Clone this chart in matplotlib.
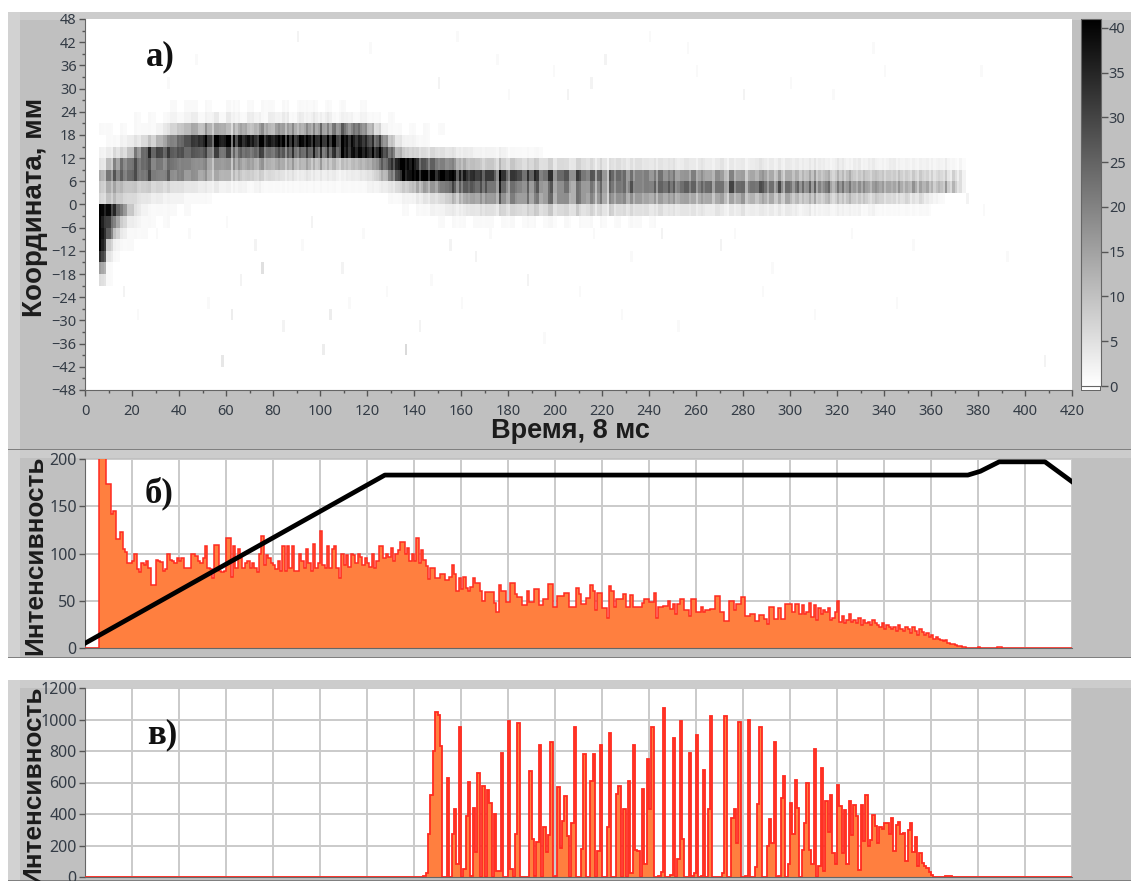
import numpy as np
from matplotlib import pyplot as plt
from matplotlib.colors import LinearSegmentedColormap, Normalize
from matplotlib.patches import Rectangle

W = 1131
H = 881

# intensity bins of panel b, t = 6, 7, 8 ...
hist_b = [260,240,220,174,174,142,145,115,115,123,
          105,102,90,90,92,100,84,80,90,88,
          92,85,67,67,93,92,91,82,84,100,
          93,92,90,95,92,95,85,85,85,100,
          99,97,92,90,95,108,85,84,74,109,
          109,82,80,82,116,116,75,108,85,105,
          95,85,90,92,85,90,85,80,100,118,
          88,98,95,90,88,84,92,82,108,82,
          108,85,108,82,82,100,92,85,105,90,
          82,110,85,90,124,88,85,108,85,105,
          108,85,74,100,88,98,86,99,98,90,
          99,96,88,95,90,86,100,85,92,108,
          108,95,100,96,106,92,100,104,
          112,112,100,106,92,100,92,116,90,104,93,87,73,85,85,74,74,78,78,72,
          72,75,88,78,60,74,62,75,64,60,65,74,69,69,60,50,59,59,59,59,
          48,38,67,60,60,49,49,69,69,57,54,54,46,46,60,49,49,62,62,45,45,52,
          52,68,68,43,43,55,55,55,58,58,43,43,43,64,57,47,47,53,53,67,60,40,
          58,58,42,42,32,66,60,43,52,52,52,57,43,43,56,
          43,43,43,43,48,52,52,49,49,58,32,43,43,44,44,50,41,47,36,47,
          52,52,40,40,34,52,52,38,38,43,38,40,40,41,41,55,55,38,38,29,
          29,50,50,40,47,47,54,54,34,34,36,36,29,29,35,35,31,25,43,43,
          31,31,42,31,31,47,47,47,38,47,47,
          36,45,36,38,48,33,46,30,42,36,40,38,42,30,32,38,50,28,34,26,
          30,36,28,30,26,32,24,30,26,28,24,30,26,24,22,26,20,24,22,20,
          22,18,24,20,18,22,20,16,22,18,14,20,17,14,16,12,14,10,12,9,
          8,7,8,5,4,4,3,2,2,1,1,0,0,0,0,0,1,0,0,0,0,0,0,0,1,1]

# intensity bins of panel c, t = 144, 145 ...
hist_c = [8,25,270,520,800,1045,1030,830,0,0,
          630,0,270,430,80,950,0,50,385,605,
          5,435,160,660,0,580,0,555,470,0,
          400,40,40,785,0,0,990,50,0,270,
          975,0,0,0,0,675,240,5,220,835,
          0,320,160,265,855,0,8,570,185,355,
          515,260,0,340,955,0,0,180,780,0,
          0,610,780,0,165,840,0,0,320,915,
          0,0,530,575,0,430,0,610,25,840,
          170,165,0,560,85,750,430,950,0,0,
          5,30,1070,0,0,15,880,0,115,990,
          240,0,0,785,8,25,900,0,8,680,
          0,430,1020,0,0,0,0,25,1025,0,
          0,375,430,215,985,0,0,8,1000,0,
          0,65,465,950,0,0,195,370,215,860,
          0,5,500,640,0,85,470,275,615,435,
          0,170,340,595,170,85,815,0,70,695,
          35,480,285,520,150,85,585,450,150,425,
          80,480,265,460,390,45,455,230,520,200,
          235,395,325,215,315,305,340,340,270,375,
          165,330,350,270,280,100,300,345,160,255,
          70,150,90,70,55,30,10,0,0,0,0,0,5,8,5]

# black trace in panel b
trace_t = [0, 127.6, 375.7, 381, 389, 408.5, 420]
trace_v = [5, 183, 183, 187, 197, 197, 176]

# heat map bands, 3 time units per value, first value at t = 6
band_24 = [0,0,0,0,0,0,0,0,0,0,1,0,1,1,0,1,0,0,1,1,
           0,1,0,1,1,0,1,0,1,1,1,0,1,0,1,0,0,1,0,0]
band_21 = [0,0,0,0,0,1,0,1,0,1,2,1,2,3,1,2,3,1,3,2,
           1,3,2,1,3,2,3,1,3,2,3,2,3,1,2,2,1,2,1,1,
           0,1]
band_18 = [1,1,0,1,0,1,1,1,2,4,7,9,11,14,10,14,12,13,9,12,
           14,10,13,15,11,16,14,15,12,16,15,18,16,20,22,18,22,18,12,6,
           2,1,1,0,1,0,1,0,1,0]
band_15 = [0,1,1,2,3,4,6,8,12,16,20,24,28,32,34,36,35,36,34,35,
           36,37,35,38,36,39,38,36,39,40,38,39,36,38,36,37,35,34,30,26,
           18,9,4,2,2,1,1,0]
band_12 = [2,3,5,6,10,18,24,28,30,27,26,28,24,27,26,24,26,22,25,22,
           24,22,26,24,22,26,24,26,23,26,28,25,26,30,34,36,38,38,36,36,
           30,22,12,8,7,6,5,6,5,4,4,3,3,2,2,2,2,2,1,1,1,1,1]
band_9 = [4,10,16,20,22,24,24,22,22,20,22,20,20,18,18,16,14,16,14,16,
          14,15,13,14,12,14,12,13,11,13,10,12,10,11,9,10,11,12,14,18,
          24,30,38,40,38,28,24,24,20,18,16,12,10,10,8,9,8,7,8,7,
          6,7,6,6,5,6,5,5,6,5,4,5,4,5,4,4,5,4,4,4,
          4,4,3,4,3,4,3,3,4,3,3,3,3,4,3,3,3,3,3,3,
          3,3,3,2,3,3,2,3,2,3,2,2,3,2,2,2,2,2,2,2,
          2,1,1,0]
band_6 = [12,20,22,22,24,24,22,24,20,22,18,20,16,18,14,14,12,12,10,10,
          8,8,7,6,6,5,4,4,3,4,3,3,3,3,2,3,3,4,5,8,
          12,20,30,38,40,40,40,38,40,38,36,34,32,32,30,32,28,30,28,30,
          26,28,24,26,22,24,24,22,24,22,22,20,20,22,20,18,20,20,18,20,
          18,18,16,16,18,16,14,16,14,16,14,13,14,13,14,12,12,11,12,11,
          11,11,10,11,9,9,11,8,9,8,9,8,8,8,7,7,7,6,6,6,
          5,5,3,0]
band_3 = [8,12,12,10,9,8,8,7,7,6,5,5,4,4,3,3,3,2,2,2,
          2,1,2,1,1,1,1,1,1,1,1,1,1,1,1,1,1,1,2,2,
          3,4,6,8,10,12,14,16,20,22,24,24,26,24,26,22,24,22,20,20,
          20,18,20,18,18,18,20,16,18,18,16,18,18,20,20,22,20,20,22,22,
          24,22,22,24,22,22,24,20,20,24,22,20,22,24,22,20,22,20,20,22,
          20,18,18,20,16,18,18,16,16,14,16,14,14,14,12,14,12,12,10,10,
          10,8,3,0]
band_0 = [6,9,9,7,6,5,4,3,3,2,2,2,1,1,1,1,0,0,0,0,
          0,0,0,0,0,0,0,0,0,0,0,0,0,0,0,0,0,0,0,0,
          0,1,1,2,2,3,4,5,6,8,10,12,14,14,16,16,18,16,18,16,
          18,16,16,18,16,18,16,16,18,16,14,16,14,16,16,14,16,14,14,14,
          14,14,14,14,12,14,14,12,14,12,12,14,12,10,12,12,10,12,10,10,
          10,10,8,10,8,8,10,8,8,6,8,6,6,5,6,4,5,3,2,1]
band_m3 = [40,36,28,18,9,4,2,1,1,1,1,0,1,0,0,0,0,0,0,0,
           0,0,0,0,0,0,0,0,0,0,0,0,0,0,0,0,0,0,0,0,
           0,0,0,1,0,1,1,2,2,3,3,3,4,4,5,5,5,6,6,6,
           6,7,6,7,6,6,6,6,5,6,5,5,6,5,5,5,5,5,4,5,
           4,4,4,4,4,4,3,4,3,3,3,4,3,3,3,3,3,3,3,2,
           3,2,2,2,2,2,2,2,1,2,1,1,1,1,1,1,1,1,0,0]
band_m6 = [36,28,16,7,3,2,1,1,0,1,0,0,0,0,0,0,0,0,0,0,
           0,0,0,0,0,0,0,0,0,0,0,0,0,0,0,0,0,0,0,0,
           0,0,0,0,0,0,0,0,1,0,1,1,0,1,1,1,0,1,1,0,
           1,1,0,1,1,0,1,0,1,1,0,1,0,1,0,1,1,0,1,0]
band_m9 = [38,24,8,3,1,1,1]
band_m12 = [36,8,2,1,1]
band_m15 = [30,4,1]
band_m18 = [14,1]
band_m21 = [5,1]

band_rows = [24, 21, 18, 15, 12, 9, 6, 3, 0, -3, -6, -9, -12, -15, -18, -21]
band_vals = [band_24, band_21, band_18, band_15, band_12, band_9, band_6, band_3,
             band_0, band_m3, band_m6, band_m9, band_m12, band_m15, band_m18, band_m21]

# faint single columns away from the bands
speck_t = [150,158,205,215,240,175,280,340,381,136,58,75,62,408,375,382,101,104,
           199,221,256,300,121,90,47,35,180,260,318,335,
           16,66,72,92,109,128,147,166,188,210,232,270,292,
           22,52,84,112,142,160,195,228,252,288,310,345,
           30,44,60,96,118,155,172,216,245,276,326,352,392]
speck_y = [30,42,27,30,42,36,27,33,33,-39,-42,-18,-30,-42,0,-3,-39,-30,
           33,36,39,30,39,42,36,30,27,33,27,39,
           -24,-21,-12,-12,-18,-24,-21,-15,-21,-24,-15,-12,-18,
           -30,-27,-33,-27,-33,-27,-36,-30,-33,-24,-30,-27,
           -9,-9,-6,-6,-9,-12,-9,-9,-9,-9,-9,-12,-15]
speck_v = [2,1,2,2,1,1,2,1,1,6,4,5,3,2,2,1,3,3,
           1,2,1,1,1,2,1,1,1,1,1,1,
           2,2,2,1,2,1,1,2,2,1,1,2,1,
           1,1,2,1,2,1,1,1,1,1,1,1,
           1,1,1,2,1,2,1,1,2,1,1,1,1]

y_ticks = list(range(-48, 49, 6))
x_ticks = list(range(0, 421, 20))
bar_ticks = [0, 5, 10, 15, 20, 25, 30, 35, 40]
ticks_b = [0, 50, 100, 150, 200]
ticks_c = [0, 200, 400, 600, 800, 1000, 1200]

TICK_FONT = 'Noto Sans'
TICK_COLOR = '#333b45'
GRAY = '#c0c0c0'


def px_axes(left, top, right, bottom):
    return fig.add_axes([left / W, 1 - bottom / H, (right - left) / W, (bottom - top) / H])


def px_rect(left, top, right, bottom, color):
    fig.add_artist(Rectangle((left / W, 1 - bottom / H), (right - left) / W, (bottom - top) / H,
                             transform=fig.transFigure, fc=color, ec='none', zorder=-5))


def style_ticks(ax, size=11):
    for lab in ax.get_yticklabels() + ax.get_xticklabels():
        lab.set_fontfamily(TICK_FONT)
        lab.set_fontsize(size)
        lab.set_color(TICK_COLOR)
    for side in ['top', 'right']:
        ax.spines[side].set_visible(False)
    for side in ['left', 'bottom']:
        ax.spines[side].set_color('#666666')


def full_hist(vals, start):
    out = np.zeros(420)
    out[start:start + len(vals)] = vals
    return out


fig = plt.figure(figsize=(W / 100, H / 100), dpi=100, facecolor='white')

# grey panels behind the three graphs
for top, bottom in [(12, 450), (450, 658), (680, 881)]:
    px_rect(8, top, W, bottom, GRAY)
    px_rect(8, top, W, top + 8, '#cccccc')
    px_rect(8, top, 20, bottom, '#d2d2d2')
    px_rect(8, bottom - 1.5, W, bottom, '#808080')

# panel a, each band value is split over its columns like the bins of panel b
heat_b = full_hist(hist_b, 6)
heat = np.zeros((32, 420))
for y0, vals in zip(band_rows, band_vals):
    row = (y0 + 48) // 3
    for k, v in enumerate(vals):
        t0 = 6 + 3 * k
        local = heat_b[t0:t0 + 3]
        heat[row, t0:t0 + 3] = v * (local / max(local.mean(), 1)) ** 1.5
for t, y0, v in zip(speck_t, speck_y, speck_v):
    heat[(y0 + 48) // 3, t] = v

cmap = LinearSegmentedColormap.from_list('heat', ['white', 'black'])
norm = Normalize(0, 41)

ax = px_axes(85, 19, 1072, 390)
mesh = ax.pcolormesh(np.arange(421), np.arange(-48, 49, 3), heat, cmap=cmap, norm=norm, shading='flat')
ax.set_xlim(0, 420)
ax.set_ylim(-48, 48)
ax.set_xticks(x_ticks)
ax.set_yticks(y_ticks)
ax.set_xticks(list(range(10, 420, 20)), minor=True)
ax.set_yticks(list(range(-45, 48, 6)), minor=True)
ax.tick_params(length=4, width=1, color='#555555', pad=2)
ax.tick_params(axis='x', pad=6)
ax.tick_params(which='minor', length=2, width=1, color='#555555')
style_ticks(ax, 10.5)

# colour bar
px_rect(1081, 385, 1100.5, 391, '#666666')
px_rect(1082, 386, 1099.5, 390, 'white')
cax = px_axes(1081, 19, 1100.5, 386)
cb = fig.colorbar(mesh, cax=cax)
cb.set_ticks(bar_ticks)
cax.tick_params(length=5, width=1, color='#555555', pad=1)
for lab in cax.get_yticklabels():
    lab.set_fontfamily(TICK_FONT)
    lab.set_fontsize(10.5)
    lab.set_color(TICK_COLOR)
cb.outline.set_edgecolor('#666666')

# panel b
ax_b = px_axes(85, 459, 1072, 648)
ax_b.stairs(heat_b, np.arange(421), fill=True, color='#ff7f3f', zorder=2)
ax_b.stairs(heat_b, np.arange(421), color='#ff2a20', lw=1.1, zorder=3)
ax_b.plot(trace_t, trace_v, color='black', lw=3.4, zorder=4)
ax_b.set_xlim(0, 420)
ax_b.set_ylim(0, 200)
ax_b.set_xticks(x_ticks)
ax_b.set_yticks(ticks_b)
ax_b.tick_params(axis='x', length=0, labelbottom=False)
ax_b.tick_params(axis='y', length=4, width=1, color='#555555', pad=2)
ax_b.grid(True, color='#cacaca', lw=1.4, zorder=1)
ax_b.set_axisbelow(True)
style_ticks(ax_b, 11.5)

# panel c
ax_c = px_axes(85, 688, 1072, 877)
c_full = full_hist(hist_c, 144)
ax_c.stairs(c_full, np.arange(421), fill=True, color='#ff7f3f', zorder=2)
ax_c.stairs(c_full, np.arange(421), color='#ff2a20', lw=1.3, zorder=3)
ax_c.set_xlim(0, 420)
ax_c.set_ylim(0, 1200)
ax_c.set_xticks(x_ticks)
ax_c.set_yticks(ticks_c)
ax_c.tick_params(axis='x', length=0, labelbottom=False)
ax_c.tick_params(axis='y', length=4, width=1, color='#555555', pad=2)
ax_c.grid(True, color='#cacaca', lw=1.4, zorder=1)
ax_c.set_axisbelow(True)
style_ticks(ax_c, 11.5)

# labels
label_font = dict(family='Liberation Sans', weight='bold', color='#1c1c1c')
fig.text(35 / W, 1 - 207 / H, 'Координата, мм', rotation=90, ha='center', va='center', fontsize=20, **label_font)
fig.text(570 / W, 1 - 431 / H, 'Время, 8 мс', ha='center', va='center', fontsize=19.5, **label_font)
fig.text(35 / W, 1 - 555 / H, 'Интенсивность', rotation=90, ha='center', va='center', fontsize=18.8, **label_font)
fig.text(33 / W, 1 - 785 / H, 'Интенсивность', rotation=90, ha='center', va='center', fontsize=18.8, **label_font)

letter_font = dict(family='Liberation Serif', weight='bold', color='#111111', fontsize=25)
fig.text(160 / W, 1 - 57 / H, 'а)', ha='center', va='center', **letter_font)
fig.text(159 / W, 1 - 493 / H, 'б)', ha='center', va='center', **letter_font)
fig.text(162 / W, 1 - 735 / H, 'в)', ha='center', va='center', **letter_font)

fig.savefig('out.png', dpi=100)
